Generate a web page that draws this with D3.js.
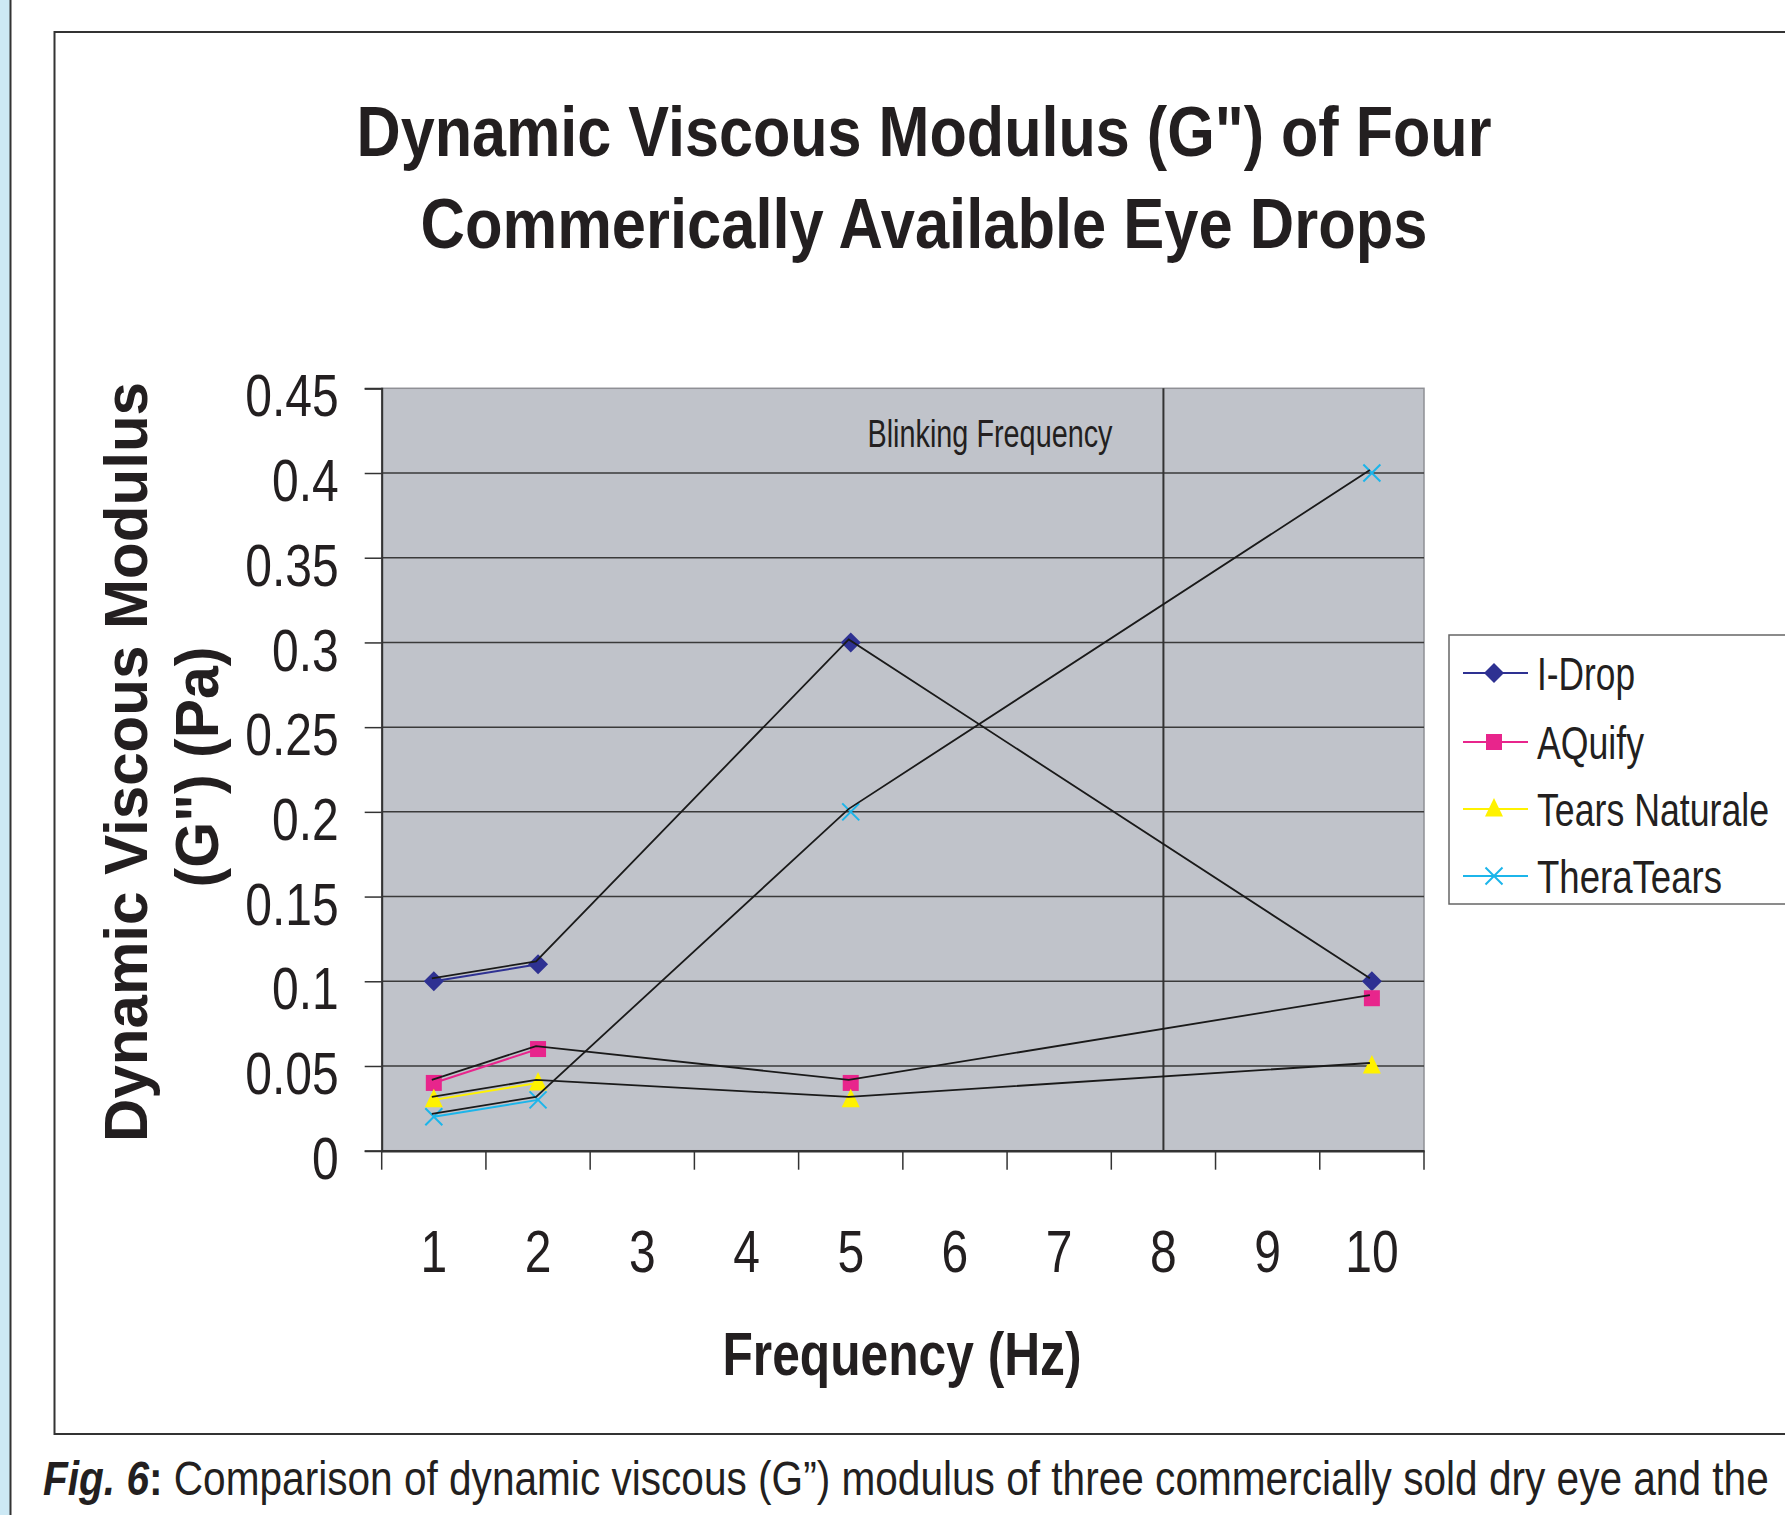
<!DOCTYPE html>
<html><head><meta charset="utf-8">
<script src="https://cdn.jsdelivr.net/npm/d3@7"></script>
<style>body{margin:0;background:#fff} svg{display:block}</style>
</head><body>
<svg id="c" width="1785" height="1515"></svg>
<script>
// ---- data ----
const categories = ["1","2","3","4","5","6","7","8","9","10"];
const seriesNames = ["I-Drop","AQuify","Tears Naturale","TheraTears"];
const iDrop         = [0.10,0.11,null,null,0.30,null,null,null,null,0.10];
const aquify        = [0.04,0.06,null,null,0.04,null,null,null,null,0.09];
const tearsNaturale = [0.03,0.04,null,null,0.03,null,null,null,null,0.05];
const theraTears    = [0.02,0.03,null,null,0.20,null,null,null,null,0.40];
const yTickValues = [0,0.05,0.1,0.15,0.2,0.25,0.3,0.35,0.4,0.45];
const yTickLabels = ["0","0.05","0.1","0.15","0.2","0.25","0.3","0.35","0.4","0.45"];
const blinkingCategory = "8";
const titleLines = ["Dynamic Viscous Modulus (G\") of Four","Commerically Available Eye Drops"];
const yTitleLines = ["Dynamic Viscous Modulus","(G\") (Pa)"];
const xTitle = "Frequency (Hz)";
const blinkLabel = "Blinking Frequency";

const seriesValues = [iDrop, aquify, tearsNaturale, theraTears];
const colors = ["#2e3192","#e8258c","#fff200","#1cb5ea"];
const shapes = ["diamond","square","triangle","cross"];

const FONT = "'Liberation Sans Narrow','Arial Narrow','Liberation Sans',Arial,sans-serif";
const TXT = "#231f20";
const NARROW = 0.8;

const svg = d3.select("#c");

// left blue strip
svg.append("rect").attr("x",0).attr("y",0).attr("width",10).attr("height",1515).attr("fill","#cde9f5");
svg.append("line").attr("x1",10.5).attr("x2",10.5).attr("y1",0).attr("y2",1515).attr("stroke","#333").attr("stroke-width",2);

// outer frame
svg.append("rect").attr("x",54.5).attr("y",32).attr("width",1800).attr("height",1402)
  .attr("fill","none").attr("stroke","#333").attr("stroke-width",2);

const L = 381.7, R = 1424, T = 388.3, B = 1150.7;
const x = d3.scaleBand().domain(categories).range([L,R]).padding(0);
const y = d3.scaleLinear().domain([0,0.45]).range([B,T]);
const cx = c => x(c) + x.bandwidth()/2;

// plot background
svg.append("rect").attr("x",L).attr("y",T).attr("width",R-L).attr("height",B-T)
  .attr("fill","#c0c3ca").attr("stroke","#8f9095").attr("stroke-width",1.5);

// gridlines
svg.append("g").selectAll("line").data(yTickValues.filter(v=>v>0 && v<0.45)).join("line")
  .attr("x1",L).attr("x2",R).attr("y1",d=>y(d)).attr("y2",d=>y(d))
  .attr("stroke","#3a3a3a").attr("stroke-width",1.5);

// blinking frequency line
svg.append("line").attr("x1",cx(blinkingCategory)).attr("x2",cx(blinkingCategory))
  .attr("y1",T).attr("y2",B).attr("stroke","#333").attr("stroke-width",2);
svg.append("text").attr("x",990).attr("y",447).attr("text-anchor","middle")
  .attr("font-family",FONT).attr("font-size",39).attr("fill",TXT)
  .attr("textLength",245).attr("lengthAdjust","spacingAndGlyphs").text(blinkLabel);

// y axis
const yAxis = d3.axisLeft(y).tickValues(yTickValues).tickFormat((d,i)=>yTickLabels[i]).tickSize(17).tickPadding(0);
const gy = svg.append("g").attr("transform",`translate(${L},0)`).call(yAxis);
gy.select(".domain").attr("stroke","#333").attr("stroke-width",2);
gy.selectAll(".tick line").attr("stroke","#333").attr("stroke-width",1.5);
gy.selectAll(".tick text").attr("font-family",FONT).attr("font-size",60).attr("fill",TXT)
  .attr("x",-43/NARROW).attr("dy","0.46em").attr("transform",`scale(${NARROW},1)`);

// x axis: ticks at band boundaries
const xAxis = d3.axisBottom(x).tickSize(0).tickPadding(0);
const gx = svg.append("g").attr("transform",`translate(0,${B})`).call(xAxis);
gx.select(".domain").attr("stroke","#333").attr("stroke-width",2.5);
gx.selectAll(".tick text").attr("font-family",FONT).attr("font-size",60).attr("fill",TXT)
  .attr("y",121).attr("dy",0).attr("transform",`scale(${NARROW},1)`);
const bounds = categories.map(c=>x(c)).concat([R]);
svg.append("g").selectAll("line").data(bounds).join("line")
  .attr("x1",d=>d).attr("x2",d=>d).attr("y1",B).attr("y2",B+19)
  .attr("stroke","#333").attr("stroke-width",1.5);

// colored series lines (with gaps)
const line = d3.line().defined(d=>d.v!==null).x(d=>cx(d.c)).y(d=>y(d.v));
seriesValues.forEach((vals,i)=>{
  const pts = categories.map((c,k)=>({c, v: vals[k]}));
  svg.append("path").attr("d",line(pts)).attr("fill","none")
    .attr("stroke",colors[i]).attr("stroke-width",2);
});

// black connecting overlay lines (through all defined points, slightly offset)
const blackLine = d3.line().x(d=>cx(d.c)-2).y(d=>y(d.v)-3);
function markerPath(shape){
  switch(shape){
    case "diamond": return "M0,-10L10,0L0,10L-10,0Z";
    case "square": return "M-8,-8H8V8H-8Z";
    case "triangle": return "M0,-11L9,7.5H-9Z";
    case "cross": return "M-8.5,-8.5L8.5,8.5M-8.5,8.5L8.5,-8.5";
  }
}
function drawMarker(g, shape, color, px, py){
  const p = g.append("path").attr("d",markerPath(shape)).attr("transform",`translate(${px},${py})`);
  if(shape==="cross") p.attr("fill","none").attr("stroke",color).attr("stroke-width",2);
  else p.attr("fill",color);
}
const mg = svg.append("g");
seriesValues.forEach((vals,i)=>{
  const pts = categories.map((c,k)=>({c, v: vals[k]}));
  pts.filter(d=>d.v!==null).forEach(d=>drawMarker(mg, shapes[i], colors[i], cx(d.c), y(d.v)));
});
seriesValues.forEach((vals,i)=>{
  const pts = categories.map((c,k)=>({c, v: vals[k]})).filter(d=>d.v!==null);
  svg.append("path").attr("d",blackLine(pts)).attr("fill","none")
    .attr("stroke","#1a1a1a").attr("stroke-width",1.8);
});

// legend
const lg = svg.append("g");
lg.append("rect").attr("x",1449).attr("y",635).attr("width",400).attr("height",269)
  .attr("fill","#fff").attr("stroke","#666").attr("stroke-width",1.5);
const legendRowsY = [673,742,809,876];
const legendWidths = [98,107,232,185];
seriesNames.forEach((n,i)=>{
  const yy = legendRowsY[i];
  lg.append("line").attr("x1",1463).attr("x2",1528).attr("y1",yy).attr("y2",yy)
    .attr("stroke",colors[i]).attr("stroke-width",2);
  drawMarker(lg, shapes[i], colors[i], 1494, yy);
  lg.append("text").attr("x",1537).attr("y",yy+17).attr("font-family",FONT).attr("font-size",46)
    .attr("fill",TXT).attr("textLength",legendWidths[i]).attr("lengthAdjust","spacingAndGlyphs").text(n);
});

// titles
const titleY = [156,248], titleW = [1135,1007];
titleLines.forEach((t,i)=>{
  svg.append("text").attr("x",924).attr("y",titleY[i]).attr("text-anchor","middle")
    .attr("font-family",FONT).attr("font-weight","bold").attr("font-size",71).attr("fill",TXT)
    .attr("textLength",titleW[i]).attr("lengthAdjust","spacingAndGlyphs").text(t);
});
const yTX = [147,218], yTW = [760,241], yTC = [762,767];
yTitleLines.forEach((t,i)=>{
  svg.append("text").attr("transform",`translate(${yTX[i]},${yTC[i]}) rotate(-90)`)
    .attr("text-anchor","middle").attr("font-family",FONT).attr("font-weight","bold")
    .attr("font-size",62).attr("fill",TXT)
    .attr("textLength",yTW[i]).attr("lengthAdjust","spacingAndGlyphs").text(t);
});
svg.append("text").attr("x",902).attr("y",1375).attr("text-anchor","middle")
  .attr("font-family",FONT).attr("font-weight","bold").attr("font-size",62).attr("fill",TXT)
  .attr("textLength",359).attr("lengthAdjust","spacingAndGlyphs").text(xTitle);

// caption (condensed horizontally)
const capG = svg.append("g").attr("transform","translate(43,1495) scale(0.846,1)");
const cap = capG.append("text").attr("x",0).attr("y",0).attr("font-family",FONT)
  .attr("font-size",48).attr("fill",TXT);
cap.append("tspan").attr("font-weight","bold").attr("font-style","italic").text("Fig. 6");
cap.append("tspan").attr("font-weight","bold").text(":");
cap.append("tspan").text(" Comparison of dynamic viscous (G\u201d) modulus of three commercially sold dry eye and the");
</script>
</body></html>
